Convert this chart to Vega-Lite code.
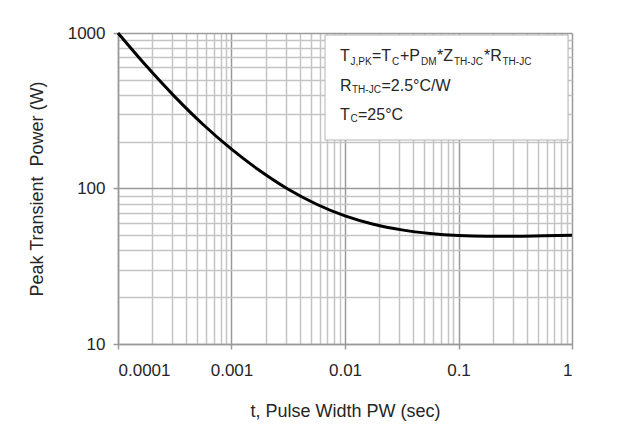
{
  "$schema": "https://vega.github.io/schema/vega-lite/v6.json",
  "width": 454,
  "height": 311,
  "autosize": {"type": "none"},
  "padding": {"left": 118, "top": 33, "right": 54, "bottom": 94},
  "background": "white",
  "config": {
    "view": {"stroke": null},
    "font": "Liberation Sans",
    "axis": {"labelFont": "Liberation Sans", "titleFont": "Liberation Sans", "labelColor": "#262626", "titleColor": "#262626", "titleFontWeight": "normal"}
  },
  "datasets": {
    "curve": [
      {"t": 0.0001, "p": 1000},
      {"t": 0.000178, "p": 613},
      {"t": 0.000316, "p": 390},
      {"t": 0.000562, "p": 258},
      {"t": 0.001, "p": 179},
      {"t": 0.00178, "p": 130},
      {"t": 0.00316, "p": 98.9},
      {"t": 0.00562, "p": 79.2},
      {"t": 0.01, "p": 66.6},
      {"t": 0.0178, "p": 58.9},
      {"t": 0.0316, "p": 54.2},
      {"t": 0.0562, "p": 51.4},
      {"t": 0.1, "p": 49.9},
      {"t": 0.178, "p": 49.4},
      {"t": 0.316, "p": 49.4},
      {"t": 0.562, "p": 49.7},
      {"t": 1, "p": 50}
    ],
    "box": [{"x": 0.006665, "x2": 0.9222, "y": 970.8, "y2": 205.1}],
    "main": [
      {"label": "T", "x": 0.009036, "y": 660.5},
      {"label": "=T", "x": 0.017288, "y": 660.5},
      {"label": "+P", "x": 0.030516, "y": 660.5},
      {"label": "*Z", "x": 0.064628, "y": 660.5},
      {"label": "*R", "x": 0.16775, "y": 660.5},
      {"label": "R", "x": 0.009036, "y": 425.6},
      {"label": "=2.5°C/W", "x": 0.020971, "y": 425.6},
      {"label": "T", "x": 0.009036, "y": 275.7},
      {"label": "=25°C", "x": 0.013016, "y": 275.7}
    ],
    "sub": [
      {"label": "J,PK", "x": 0.011181, "y": 627.1},
      {"label": "C", "x": 0.025949, "y": 627.1},
      {"label": "DM", "x": 0.046714, "y": 627.1},
      {"label": "TH-JC", "x": 0.091246, "y": 627.1},
      {"label": "TH-JC", "x": 0.24416, "y": 627.1},
      {"label": "TH-JC", "x": 0.011524, "y": 408.3},
      {"label": "C", "x": 0.011181, "y": 267.7}
    ]
  },
  "layer": [
    {
      "data": {"name": "box"},
      "mark": {"type": "rect", "fill": "white", "stroke": "#b4b4b4", "strokeWidth": 1},
      "encoding": {
        "x": {"field": "x", "type": "quantitative",
          "scale": {"type": "log", "domain": [0.0001, 1], "nice": false},
          "axis": {"orient": "bottom", "values": [0.0002,0.0003,0.0004,0.0005,0.0006,0.0007,0.0008,0.0009,0.002,0.003,0.004,0.005,0.006,0.007,0.008,0.009,0.02,0.03,0.04,0.05,0.06,0.07,0.08,0.09,0.2,0.3,0.4,0.5,0.6,0.7,0.8,0.9],
            "grid": true, "gridColor": "#c4c4c4", "gridWidth": 1.5, "labels": false, "ticks": false, "domain": false, "title": null}},
        "x2": {"field": "x2"},
        "y": {"field": "y", "type": "quantitative",
          "scale": {"type": "log", "domain": [10, 1000], "nice": false},
          "axis": {"orient": "left", "values": [20,30,40,50,60,70,80,90,200,300,400,500,600,700,800,900],
            "grid": true, "gridColor": "#c4c4c4", "gridWidth": 1.5, "labels": false, "ticks": false, "domain": false, "title": null}},
        "y2": {"field": "y2"}
      }
    },
    {
      "data": {"name": "curve"},
      "mark": {"type": "line", "color": "black", "strokeWidth": 3, "interpolate": "monotone"},
      "encoding": {
        "x": {"field": "t", "type": "quantitative",
          "scale": {"type": "log", "domain": [0.0001, 1], "nice": false},
          "axis": {"orient": "bottom", "values": [0.0001, 0.001, 0.01, 0.1, 1], "format": "~g",
            "grid": true, "gridColor": "#9a9a9a", "gridWidth": 1.5,
            "domain": true, "domainColor": "#9a9a9a", "domainWidth": 1.5,
            "ticks": true, "tickColor": "#9a9a9a", "tickSize": 5, "tickWidth": 1.5,
            "labelFontSize": 17, "labelPadding": 13,
            "title": "t, Pulse Width PW (sec)", "titleFontSize": 18, "titlePadding": 24}},
        "y": {"field": "p", "type": "quantitative",
          "scale": {"type": "log", "domain": [10, 1000], "nice": false},
          "axis": {"orient": "left", "values": [10, 100, 1000], "format": "~g",
            "grid": true, "gridColor": "#9a9a9a", "gridWidth": 1.5,
            "domain": true, "domainColor": "#9a9a9a", "domainWidth": 1.5,
            "ticks": true, "tickColor": "#9a9a9a", "tickSize": 5, "tickWidth": 1.5,
            "labelFontSize": 17, "labelPadding": 8,
            "title": "Peak Transient\u00a0 Power (W)", "titleFontSize": 18, "titlePadding": 21}}
      }
    },
    {
      "data": {"name": "main"},
      "mark": {"type": "text", "align": "left", "baseline": "alphabetic", "fontSize": 16, "font": "Liberation Sans", "color": "#262626"},
      "encoding": {
        "x": {"field": "x", "type": "quantitative", "scale": {"type": "log", "domain": [0.0001, 1], "nice": false}, "axis": null},
        "y": {"field": "y", "type": "quantitative", "scale": {"type": "log", "domain": [10, 1000], "nice": false}, "axis": null},
        "text": {"field": "label"}
      }
    },
    {
      "data": {"name": "sub"},
      "mark": {"type": "text", "align": "left", "baseline": "alphabetic", "fontSize": 10, "font": "Liberation Sans", "color": "#262626"},
      "encoding": {
        "x": {"field": "x", "type": "quantitative", "scale": {"type": "log", "domain": [0.0001, 1], "nice": false}, "axis": null},
        "y": {"field": "y", "type": "quantitative", "scale": {"type": "log", "domain": [10, 1000], "nice": false}, "axis": null},
        "text": {"field": "label"}
      }
    }
  ],
  "resolve": {"axis": {"x": "independent", "y": "independent"}}
}
